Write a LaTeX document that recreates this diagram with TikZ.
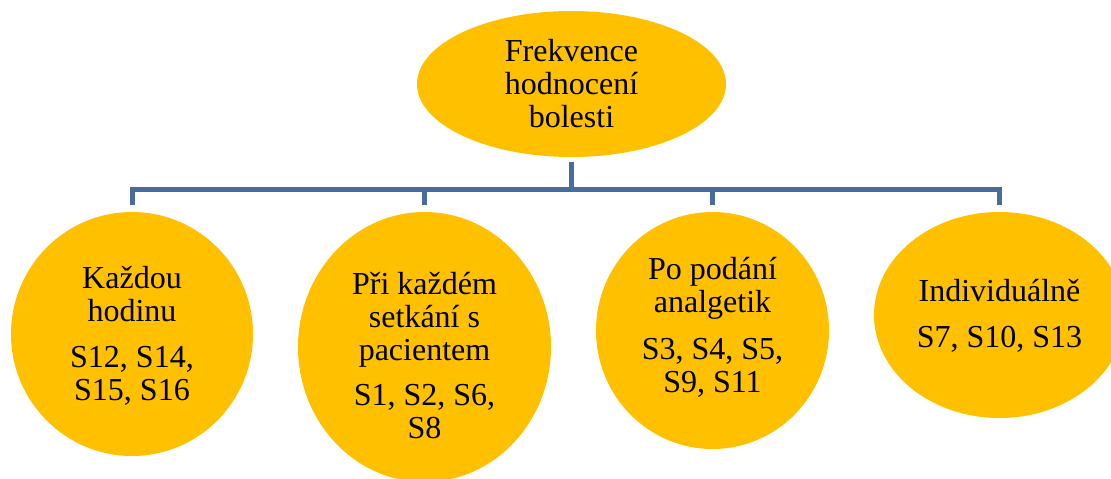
\documentclass[tikz,border=0pt]{standalone}
\usepackage{fontspec}
\setmainfont{Liberation Serif}
\usetikzlibrary{shapes.geometric}
\definecolor{gold}{HTML}{FFC000}
\definecolor{busblue}{RGB}{72,108,155}
\tikzset{
  bubble/.style={ellipse, fill=gold, draw=none, inner sep=0pt},
  label text/.style={anchor=base, align=center, inner sep=0pt,
    font=\rmfamily\fontsize{32}{33}\selectfont},
  conn/.style={draw=busblue, line width=5pt, line join=miter}
}
\begin{document}
\begin{tikzpicture}[x=1pt, y=1pt]
  \useasboundingbox (0,0) rectangle (1111,-479);
  \clip (0,0) rectangle (1111,-479);

  % root and the four categories
  \node[bubble, minimum width=309pt, minimum height=146pt] (root) at (571.5,-84) {};
  \node[bubble, minimum width=242pt, minimum height=244pt] (c1) at (132,-334) {};
  \node[bubble, minimum width=253pt, minimum height=270pt] (c2) at (424.5,-347) {};
  \node[bubble, minimum width=233pt, minimum height=237pt] (c3) at (712.5,-330.5) {};
  \node[bubble, minimum width=251pt, minimum height=206pt] (c4) at (999.5,-315) {};

  % texts, placed by the baseline of their last line
  \node[label text] (roott) at (571.5,-127.5) {Frekvence\\hodnocení\\bolesti};
  \node[label text] (c1t) at (132,-400) {Každou\\hodinu\\[13pt]S12, S14,\\S15, S16};
  \node[label text] (c2t) at (424.5,-438.3) {Při každém\\setkání s\\pacientem\\[12pt]S1, S2, S6,\\S8};
  \node[label text] (c3t) at (712.5,-392.7) {Po podání\\analgetik\\[14pt]S3, S4, S5,\\S9, S11};
  \node[label text] (c4t) at (999.5,-347.7) {Individuálně\\[13pt]S7, S10, S13};

  % connector bus
  \coordinate (bus) at (0,-189.5);
  \draw[conn] ([yshift=-5pt]root.south) -- (root.south |- bus);
  \draw[conn] ([yshift=7pt]c1.north) -- (c1.north |- bus) -- (c4.north |- bus) -- ([yshift=7pt]c4.north);
  \draw[conn] ([yshift=7pt]c2.north) -- (c2.north |- bus);
  \draw[conn] ([yshift=7pt]c3.north) -- (c3.north |- bus);
\end{tikzpicture}
\end{document}
